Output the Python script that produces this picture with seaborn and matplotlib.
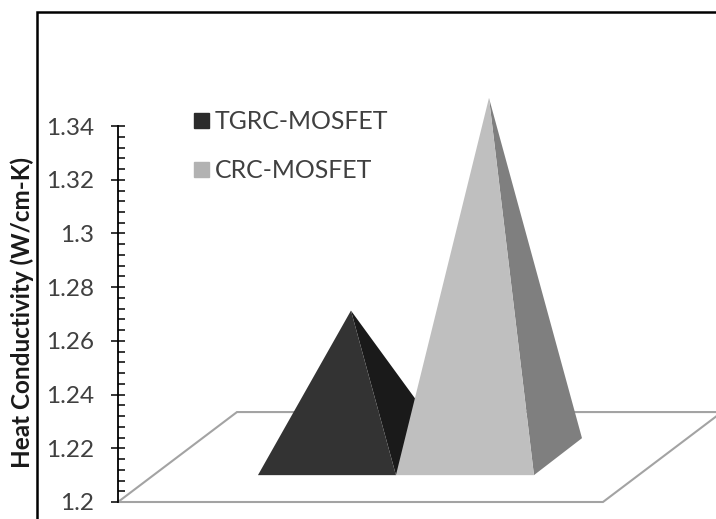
import matplotlib
matplotlib.use('Agg')
import matplotlib.pyplot as plt
from matplotlib.patches import Patch, Rectangle
from matplotlib.ticker import FixedLocator
import seaborn as sns

categories = ['TGRC-MOSFET', 'CRC-MOSFET']
values = [1.2544, 1.3336]
front_colors = ['#333333', '#bfbfbf']
side_colors = ['#1a1a1a', '#7f7f7f']
legend_colors = ['#2b2b2b', '#b2b2b2']
tick_values = [1.2, 1.22, 1.24, 1.26, 1.28, 1.3, 1.32, 1.34]
tick_labels = ['1.2', '1.22', '1.24', '1.26', '1.28', '1.3', '1.32', '1.34']

sns.set_theme(style='white')
plt.rcParams['font.family'] = ['Lato', 'DejaVu Sans']

W, H = 716, 519
fig = plt.figure(figsize=(W / 100, H / 100), dpi=100)
# axes run from the y axis to the right edge, 1.2 sits at the floor corner
ax = fig.add_axes([118 / W, (H - 502) / H, (W - 118) / W, 490 / H])
ax.patch.set_alpha(0)

y0 = 1.2
ax.set_xlim(-1.014, 3.319)
ax.set_ylim(y0, y0 + 490 / 2685)

# floor of the 3d plot
floor_l, floor_r = -1.014, 2.5
floor_dx, floor_dy = 0.862, 0.0335
ax.fill([floor_l, floor_r, floor_r + floor_dx, floor_l + floor_dx],
        [y0, y0, y0 + floor_dy, y0 + floor_dy],
        facecolor='white', edgecolor='#a3a3a3', linewidth=1.5, clip_on=False, zorder=1)

# pyramids, standing on the floor
base_y = 1.21
dx, dy = 0.348, 0.01378
for i, (val, fc, sc) in enumerate(zip(values, front_colors, side_colors)):
    tip_x = i + (1 + dx) / 2
    tip_y = val + (base_y - y0) + dy / 2
    ax.fill([i + 1, i + 1 + dx, tip_x], [base_y, base_y + dy, tip_y], color=sc, lw=0, zorder=2 + i)
    ax.fill([i, i + 1, tip_x], [base_y, base_y, tip_y], color=fc, lw=0, zorder=2 + i)

ax.set_xticks([])
ax.set_yticks(tick_values)
ax.set_yticklabels(tick_labels, fontsize=17.5, color='#404040')
# four minor ticks per step, only up to the last labelled tick
ax.yaxis.set_minor_locator(FixedLocator([y0 + 0.004 * k for k in range(36)]))
ax.tick_params(axis='y', which='major', direction='inout', length=10, width=1.1, color='black', pad=12, left=True)
ax.tick_params(axis='y', which='minor', direction='in', length=5, width=1.1, color='black', left=True)

sns.despine(ax=ax, bottom=True)
ax.spines['left'].set_bounds(1.2, 1.34)
ax.spines['left'].set_color('black')
ax.spines['left'].set_linewidth(1.3)

handles = [Patch(color=c) for c in legend_colors]
fig.legend(handles, categories, loc='upper left', bbox_to_anchor=(172 / W, 1 - 88 / H),
           frameon=False, fontsize=17.9, labelcolor='#404040',
           handlelength=0.58, handleheight=0.58, handletextpad=0.25, labelspacing=1.04)

fig.text(22 / W, 1 - 312 / H, 'Heat Conductivity (W/cm-K)', rotation=90, ha='center', va='center',
         fontsize=17.5, fontweight='bold', color='#1a1a1a')

# chart frame, cropped by the image on the right and at the bottom
fig.add_artist(Rectangle((37 / W, -0.1), 1.1, 0.1 + (H - 12) / H, transform=fig.transFigure,
                         fill=False, edgecolor='black', linewidth=1.8))

fig.savefig('out.png', dpi=100)
